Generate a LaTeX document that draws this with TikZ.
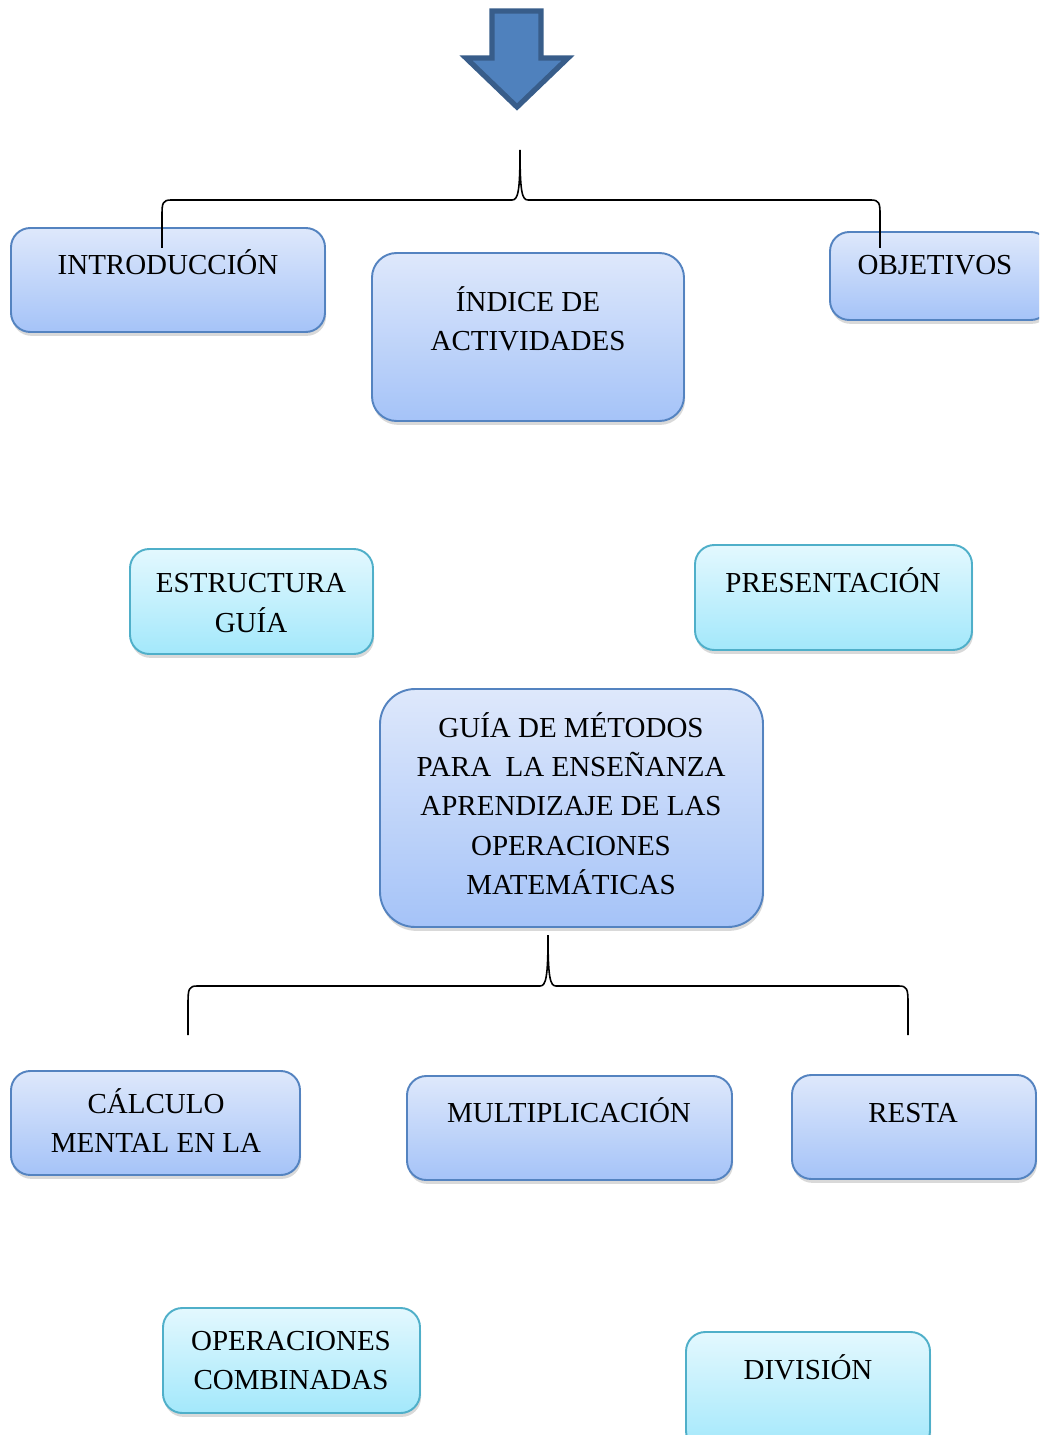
\documentclass[tikz,border=0pt]{standalone}
\usepackage{fontspec}
\setmainfont{Liberation Serif}
\usepackage{xcolor}
\usetikzlibrary{shadows}

\definecolor{bluetop}{HTML}{DEE8FB}
\definecolor{bluebot}{HTML}{A5C3F8}
\definecolor{blueline}{HTML}{5483C0}
\definecolor{cyantop}{HTML}{E3F8FE}
\definecolor{cyanbot}{HTML}{A3E8FB}
\definecolor{cyanline}{HTML}{4FAFC9}
\definecolor{arrowfill}{HTML}{4F81BD}
\definecolor{arrowline}{HTML}{385D8A}

\begin{document}
\begin{tikzpicture}[x=0.02cm, y=-0.02cm,
  bluebox/.style={top color=bluetop, bottom color=bluebot, draw=blueline, line width=1.1pt,
    rounded corners=11pt, drop shadow={opacity=0.3, shadow xshift=0.6pt, shadow yshift=-2.2pt}},
  cyanbox/.style={top color=cyantop, bottom color=cyanbot, draw=cyanline, line width=1.1pt,
    rounded corners=11pt, drop shadow={opacity=0.3, shadow xshift=0.6pt, shadow yshift=-2.2pt}},
  lbl/.style={anchor=base, align=center, inner sep=0pt,
    font=\fontsize{16.5}{22.2}\selectfont},
  bracket/.style={draw=black, line width=0.9pt}]

\useasboundingbox (0,0) rectangle (1039,1435);
\clip (0,0) rectangle (1039,1435);

\filldraw[fill=arrowfill, draw=arrowline, line width=3pt, line join=miter]
  (492,11) -- (541,11) -- (541,58) -- (568,58) -- (517,107) -- (466,58) -- (492,58) -- cycle;

\shadedraw[bluebox] (11,228) rectangle (325,332);
\shadedraw[bluebox, rounded corners=14pt] (372,253) rectangle (684,421);
\shadedraw[bluebox] (830,232) rectangle (1050,320);

\shadedraw[cyanbox] (130,549) rectangle (373,654);
\shadedraw[cyanbox] (695,545) rectangle (972,650);

\shadedraw[bluebox, rounded corners=20pt] (380,689) rectangle (763,927);

\shadedraw[bluebox] (11,1071) rectangle (300,1175);
\shadedraw[bluebox] (407,1076) rectangle (732,1180);
\shadedraw[bluebox] (792,1075) rectangle (1036,1179);

\shadedraw[cyanbox] (163,1308) rectangle (420,1413);
\shadedraw[cyanbox] (686,1332) rectangle (930,1450);

\node[lbl] (intro) at (168,275) {INTRODUCCIÓN};
\node[lbl] (indice) at (528,351) {ÍNDICE DE\\ACTIVIDADES};
\node[lbl] (objetivos) at (935,275) {OBJETIVOS};
\node[lbl] (estructura) at (251,632) {ESTRUCTURA\\GUÍA};
\node[lbl] (presentacion) at (833,592) {PRESENTACIÓN};
\node[lbl] (guia) at (571,894) {GUÍA DE MÉTODOS\\PARA\ \ LA ENSEÑANZA\\APRENDIZAJE DE LAS\\OPERACIONES\\MATEMÁTICAS};
\node[lbl] (calculo) at (156,1152) {CÁLCULO\\MENTAL EN LA};
\node[lbl] (multi) at (569,1122) {MULTIPLICACIÓN};
\node[lbl] (resta) at (913,1122) {RESTA};
\node[lbl] (combinadas) at (291,1389) {OPERACIONES\\COMBINADAS};
\node[lbl] (division) at (808,1379) {DIVISIÓN};

\draw[bracket] (162,248) -- (162,214) .. controls (162,203) and (163,200) .. (171,200)
  -- (512,200) .. controls (518,200) and (520,192) .. (520,150)
  .. controls (520,192) and (522,200) .. (528,200)
  -- (871,200) .. controls (879,200) and (880,203) .. (880,214) -- (880,248);

\draw[bracket] (188,1035) -- (188,1003) .. controls (188,989) and (189,986) .. (197,986)
  -- (540,986) .. controls (546,986) and (548,977) .. (548,935)
  .. controls (548,977) and (550,986) .. (556,986)
  -- (899,986) .. controls (907,986) and (908,989) .. (908,1003) -- (908,1035);

\end{tikzpicture}
\end{document}
